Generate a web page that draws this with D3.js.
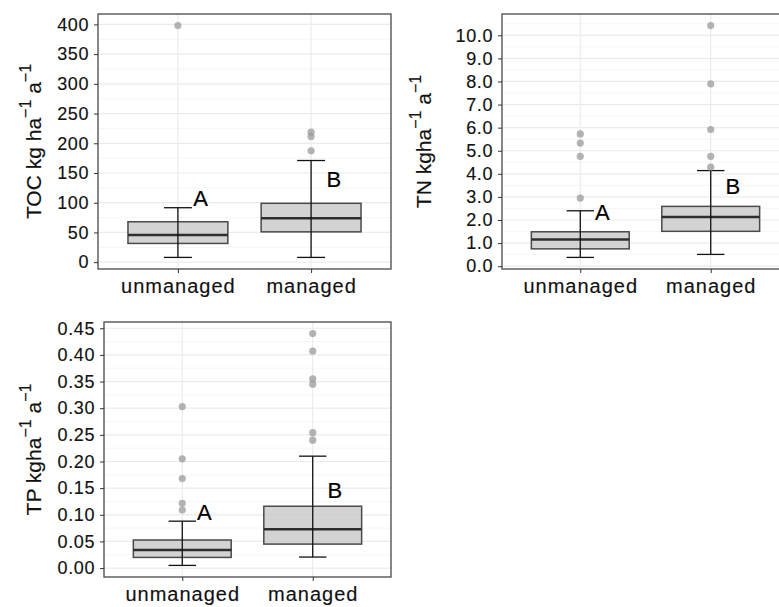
<!DOCTYPE html>
<html>
<head>
<meta charset="utf-8">
<script src="https://cdn.jsdelivr.net/npm/d3@7"></script>
<style>
  body { margin: 0; background: #fff; }
  svg { display: block; font-family: "Liberation Sans", Arial, sans-serif; }
</style>
</head>
<body>
<div id="chart"></div>
<script>
// categories
var groups = ["unmanaged", "managed"];
var letters = ["A", "B"];

// box stats per group: [lower whisker, q1, median, q3, upper whisker]
var tocBox = [[8, 31.5, 45.6, 68, 91.6], [8, 51, 73.7, 99, 171]];
var tocOut = [[398], [218.9, 211.5, 187.3]];
var tocLetterY = [108, 140];
var tocTicks = [0, 50, 100, 150, 200, 250, 300, 350, 400];

var tnBox = [[0.38, 0.75, 1.16, 1.49, 2.40], [0.51, 1.51, 2.13, 2.59, 4.14]];
var tnOut = [[5.73, 5.33, 4.76, 2.95], [10.42, 7.90, 5.92, 4.76, 4.29]];
var tnLetterY = [2.34, 3.47];
var tnTicks = [0, 1, 2, 3, 4, 5, 6, 7, 8, 9, 10];

var tpBox = [[0.005, 0.020, 0.034, 0.0527, 0.088], [0.0207, 0.045, 0.0727, 0.116, 0.21]];
var tpOut = [[0.303, 0.205, 0.168, 0.1216, 0.109], [0.44, 0.407, 0.355, 0.345, 0.254, 0.240]];
var tpLetterY = [0.105, 0.146];
var tpTicks = [0, 0.05, 0.10, 0.15, 0.20, 0.25, 0.30, 0.35, 0.40, 0.45];

var W = 779, H = 607;
var svg = d3.select('#chart').append('svg')
  .attr('width', W).attr('height', H);

var panels = [
  {box: tocBox, out: tocOut, ly: tocLetterY, ticks: tocTicks, fmt: d3.format('d'),
   title: ['TOC kg ha', '\u22121', ' a', '\u22121'], left: 98, top: 14, width: 293, height: 255, titleX: 41},
  {box: tnBox, out: tnOut, ly: tnLetterY, ticks: tnTicks, fmt: d3.format('.1f'),
   title: ['TN kgha', '\u22121', ' a', '\u22121'], left: 502, top: 14, width: 287, height: 255, titleX: 431},
  {box: tpBox, out: tpOut, ly: tpLetterY, ticks: tpTicks, fmt: d3.format('.2f'),
   title: ['TP kgha', '\u22121', ' a', '\u22121'], left: 104, top: 322, width: 287, height: 255, titleX: 41}
];

panels.forEach(drawPanel);

function drawPanel(p) {
  var g = svg.append('g')
    .attr('transform', 'translate(' + p.left + ',' + p.top + ')');

  // ggplot-like 5% expansion of data range
  var all = [];
  p.box.forEach(function(b) { all = all.concat(b); });
  p.out.forEach(function(o) { all = all.concat(o); });
  var ext = d3.extent(all), pad = (ext[1] - ext[0]) * 0.05;

  var y = d3.scaleLinear()
    .domain([ext[0] - pad, ext[1] + pad])
    .range([p.height, 0]);
  var x = d3.scalePoint()
    .domain(groups)
    .range([0, p.width])
    .padding(0.6);
  var step = x.step();

  // minor grid
  var minors = [];
  for (var i = 0; i < p.ticks.length - 1; i++) minors.push((p.ticks[i] + p.ticks[i + 1]) / 2);
  var last = p.ticks[p.ticks.length - 1] + (p.ticks[1] - p.ticks[0]) / 2;
  if (y(last) > 0) minors.push(last);
  var first = p.ticks[0] - (p.ticks[1] - p.ticks[0]) / 2;
  if (y(first) < p.height) minors.push(first);

  g.selectAll('.minor').data(minors).enter().append('line')
    .attr('x1', 0).attr('x2', p.width)
    .attr('y1', function(d) { return y(d); }).attr('y2', function(d) { return y(d); })
    .attr('stroke', '#f2f2f2').attr('stroke-width', 0.7);

  g.selectAll('.major').data(p.ticks).enter().append('line')
    .attr('x1', 0).attr('x2', p.width)
    .attr('y1', function(d) { return y(d); }).attr('y2', function(d) { return y(d); })
    .attr('stroke', '#ebebeb').attr('stroke-width', 1.2);

  g.selectAll('.vmajor').data(groups).enter().append('line')
    .attr('y1', 0).attr('y2', p.height)
    .attr('x1', function(d) { return x(d); }).attr('x2', function(d) { return x(d); })
    .attr('stroke', '#ebebeb').attr('stroke-width', 1.2);

  var bw = step * 0.75, cap = step * 0.105;

  var grp = g.selectAll('.grp').data(groups).enter().append('g');

  // boxes
  grp.append('rect')
    .attr('x', function(d) { return x(d) - bw / 2; })
    .attr('y', function(d, i) { return y(p.box[i][3]); })
    .attr('width', bw)
    .attr('height', function(d, i) { return y(p.box[i][1]) - y(p.box[i][3]); })
    .attr('fill', '#c6c6c6').attr('fill-opacity', 0.78)
    .attr('stroke', '#4a4a4a').attr('stroke-width', 1.5);

  grp.append('line')
    .attr('x1', function(d) { return x(d) - bw / 2; })
    .attr('x2', function(d) { return x(d) + bw / 2; })
    .attr('y1', function(d, i) { return y(p.box[i][2]); })
    .attr('y2', function(d, i) { return y(p.box[i][2]); })
    .attr('stroke', '#2e2e2e').attr('stroke-width', 2.5);

  // error bars through the box
  grp.append('line')
    .attr('x1', function(d) { return x(d); }).attr('x2', function(d) { return x(d); })
    .attr('y1', function(d, i) { return y(p.box[i][0]); })
    .attr('y2', function(d, i) { return y(p.box[i][4]); })
    .attr('stroke', '#111').attr('stroke-width', 1.3);
  [0, 4].forEach(function(k) {
    grp.append('line')
      .attr('x1', function(d) { return x(d) - cap; }).attr('x2', function(d) { return x(d) + cap; })
      .attr('y1', function(d, i) { return y(p.box[i][k]); })
      .attr('y2', function(d, i) { return y(p.box[i][k]); })
      .attr('stroke', '#111').attr('stroke-width', 1.3);
  });

  // outliers
  grp.selectAll('circle')
    .data(function(d, i) { return p.out[i].map(function(v) { return {g: d, v: v}; }); })
    .enter().append('circle')
    .attr('cx', function(d) { return x(d.g); })
    .attr('cy', function(d) { return y(d.v); })
    .attr('r', 3.6)
    .attr('fill', '#9a9a9a').attr('fill-opacity', 0.75);

  // significance letters
  grp.append('text')
    .attr('x', function(d) { return x(d) + step * 0.17; })
    .attr('y', function(d, i) { return y(p.ly[i]); })
    .attr('dy', '0.36em')
    .attr('text-anchor', 'middle')
    .attr('font-size', 22)
    .attr('fill', '#000').attr('stroke', '#000').attr('stroke-width', 0.2)
    .text(function(d, i) { return letters[i]; });

  // panel border
  g.append('rect')
    .attr('width', p.width).attr('height', p.height)
    .attr('fill', 'none').attr('stroke', '#555').attr('stroke-width', 1.4);

  // y axis
  var ya = g.append('g')
    .call(d3.axisLeft(y).tickValues(p.ticks).tickFormat(p.fmt).tickSize(4).tickPadding(5));
  ya.select('.domain').remove();
  ya.selectAll('line').attr('stroke', '#333');
  ya.selectAll('text').attr('font-size', 18).attr('fill', '#111')
    .attr('letter-spacing', 0.6).attr('stroke', '#111').attr('stroke-width', 0.15)
    .attr('font-family', null);

  // x axis
  var xa = g.append('g')
    .attr('transform', 'translate(0,' + p.height + ')')
    .call(d3.axisBottom(x).tickSize(4).tickPadding(6));
  xa.select('.domain').remove();
  xa.selectAll('line').attr('stroke', '#333');
  xa.selectAll('text').attr('font-size', 20).attr('fill', '#111')
    .attr('letter-spacing', 1).attr('stroke', '#111').attr('stroke-width', 0.15)
    .attr('font-family', null);

  // y title with superscripts
  var t = svg.append('text')
    .attr('transform', 'translate(' + p.titleX + ',' + (p.top + p.height / 2) + ') rotate(-90)')
    .attr('text-anchor', 'middle')
    .attr('font-size', 21)
    .attr('fill', '#111').attr('stroke', '#111').attr('stroke-width', 0.15);
  t.append('tspan').text(p.title[0]);
  t.append('tspan').attr('font-size', 16).attr('dy', -10).text(p.title[1]);
  t.append('tspan').attr('dy', 10).text(p.title[2]);
  t.append('tspan').attr('font-size', 16).attr('dy', -10).text(p.title[3]);
}
</script>
</body>
</html>
